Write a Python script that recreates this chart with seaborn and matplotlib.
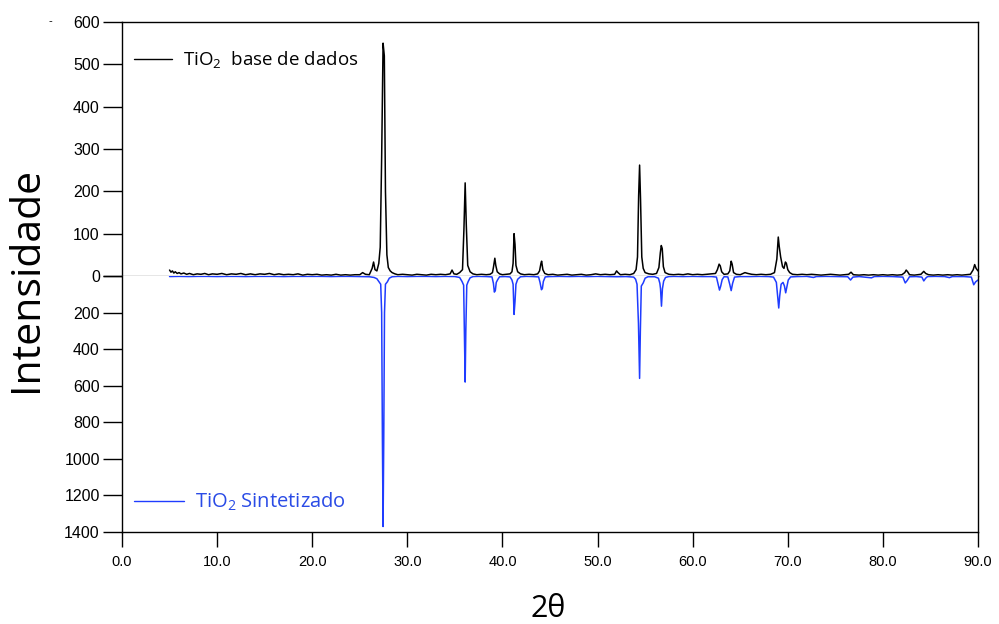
import numpy as np
import pandas as pd
import matplotlib
matplotlib.use("Agg")
import matplotlib.pyplot as plt
import seaborn as sns
from matplotlib.lines import Line2D

# ---------------- data ----------------
db_2theta = [5.0, 5.15, 5.3, 5.45, 5.6, 5.8, 6.0, 6.2, 6.5, 6.8, 7.1, 7.5, 7.9, 8.3, 8.7, 9.1, 9.5,
             10.0, 10.5, 11.0, 11.5, 12.0, 12.5, 13.0, 13.5, 14.0, 14.5, 15.0, 15.5, 16.0, 16.5,
             17.0, 17.5, 18.0, 18.5, 19.0, 19.5, 20.0, 20.5, 21.0, 21.5, 22.0, 22.5, 23.0, 23.5,
             24.0, 24.5, 25.0, 25.3, 25.6, 26.0,
             26.3, 26.45, 26.6, 26.8, 27.0, 27.15, 27.3, 27.45, 27.58, 27.7, 27.85, 28.0, 28.2,
             28.4, 28.7, 29.0, 29.5, 30.0, 30.5, 31.0, 31.5, 32.0, 32.5, 33.0, 33.5, 34.0, 34.5,
             34.7, 34.9, 35.2, 35.5, 35.8, 35.95, 36.08, 36.2, 36.35, 36.6, 36.9, 37.3, 37.8,
             38.3, 38.7, 38.95, 39.05, 39.2, 39.3, 39.45, 39.7, 40.0, 40.4, 40.8, 41.0, 41.12,
             41.22, 41.32, 41.42, 41.6, 41.9, 42.3, 42.8, 43.3, 43.7, 43.9, 44.05, 44.12, 44.25,
             44.45, 44.8, 45.3, 45.8, 46.3, 46.8, 47.3, 47.8, 48.3, 48.8, 49.3, 49.8, 50.3, 50.8,
             51.3, 51.8, 52.0, 52.15, 52.4, 52.9, 53.4, 53.8, 54.05, 54.2, 54.32, 54.42, 54.52,
             54.65, 54.8, 55.0, 55.4, 55.8, 56.2, 56.45, 56.6, 56.7, 56.8, 56.92, 57.1, 57.5,
             58.0, 58.5, 59.0, 59.5, 60.0, 60.5, 61.0, 61.5, 62.0, 62.4, 62.6, 62.78, 62.9,
             63.05, 63.3, 63.7, 63.9, 64.05, 64.15, 64.3, 64.6, 65.0, 65.5, 65.8, 66.2, 66.7,
             67.2, 67.7, 68.2, 68.6, 68.85, 69.0, 69.1, 69.25, 69.45, 69.6, 69.75, 69.85, 70.0,
             70.2, 70.5, 71.0, 71.5, 72.0, 72.5, 73.0, 73.5, 74.0, 74.5, 75.0, 75.5, 76.0, 76.4,
             76.65, 76.9, 77.5, 78.0, 78.5, 79.0, 79.5, 80.0, 80.5, 81.0, 81.5, 82.0, 82.3,
             82.45, 82.6, 82.8, 83.3, 84.0, 84.3, 84.5, 84.8, 85.3, 85.8, 86.3, 86.8, 87.3, 87.8,
             88.3, 88.8, 89.2, 89.5, 89.65, 89.8, 90.0]
db_intensity = [14, 9, 12, 7, 10, 6, 8, 5, 7, 4, 6, 3, 5, 4, 6, 3, 5,
                4, 6, 3, 5, 4, 6, 3, 5, 3, 5, 4, 6, 3, 5,
                3, 4, 3, 5, 2, 4, 3, 4, 2, 3, 2, 4, 2, 3,
                2, 3, 3, 8, 4, 3,
                18, 33, 15, 12, 30, 68, 280, 550, 520, 200, 50, 20, 12,
                8, 5, 3, 4, 3, 2, 4, 3, 2, 4, 3, 4, 3, 5,
                14, 5, 4, 8, 15, 110, 220, 120, 25, 10, 5, 3, 4,
                3, 4, 8, 20, 42, 25, 10, 5, 3, 4, 5, 10, 30,
                100, 75, 25, 10, 5, 3, 4, 3, 5, 12, 30, 35, 15,
                6, 3, 4, 2, 3, 4, 2, 3, 4, 2, 3, 5, 3, 4,
                3, 4, 12, 8, 3, 4, 3, 6, 15, 45, 190, 262, 180,
                45, 18, 8, 5, 4, 6, 20, 55, 72, 65, 22, 8, 4,
                3, 4, 3, 5, 3, 4, 3, 4, 5, 6, 15, 28, 24,
                10, 4, 5, 12, 35, 28, 8, 4, 3, 8, 6, 4, 3,
                4, 3, 4, 8, 40, 92, 70, 45, 22, 18, 33, 30, 15,
                8, 4, 3, 4, 3, 4, 3, 2, 3, 4, 3, 2, 3, 4,
                9, 3, 2, 3, 2, 3, 2, 3, 2, 3, 2, 3, 8,
                14, 10, 3, 2, 4, 11, 6, 3, 2, 3, 2, 3, 2, 3,
                2, 3, 4, 15, 27, 18, 12]

sint_2theta = [5.0, 6.0, 7.0, 8.0, 9.0, 10.0, 11.0, 12.0, 13.0, 14.0, 15.0, 16.0, 17.0, 18.0,
               19.0, 20.0, 21.0, 22.0, 23.0, 24.0, 25.0, 26.0, 26.5, 26.8, 27.0, 27.2, 27.3,
               27.38, 27.45, 27.52, 27.6, 27.7, 27.9, 28.1, 28.4, 29.0, 30.0, 31.0, 32.0, 33.0,
               34.0, 35.0, 35.5, 35.75, 35.92, 36.0, 36.08, 36.15, 36.25, 36.4, 36.6, 36.9, 37.5,
               38.3, 38.9, 39.05, 39.15, 39.25, 39.35, 39.5, 39.7, 40.3, 40.8, 41.0, 41.12, 41.22,
               41.32, 41.42, 41.6, 41.9, 42.5, 43.2, 43.8, 43.95, 44.1, 44.2, 44.3, 44.5, 45.0,
               46.0, 47.0, 48.0, 49.0, 50.0, 51.0, 52.0, 53.0, 53.8, 54.0, 54.15, 54.3, 54.42,
               54.5, 54.6, 54.8, 55.0, 55.3, 56.0, 56.4, 56.55, 56.62, 56.72, 56.82, 56.95, 57.15,
               57.5, 58.0, 59.0, 60.0, 61.0, 62.0, 62.5, 62.68, 62.82, 62.95, 63.1, 63.3, 63.7,
               63.92, 64.05, 64.2, 64.4, 65.0, 66.0, 67.0, 68.0, 68.5, 68.8, 68.95, 69.05, 69.15,
               69.3, 69.5, 69.65, 69.78, 69.9, 70.05, 70.3, 71.0, 72.0, 72.7, 73.0, 74.0, 75.0,
               76.3, 76.6, 76.85, 77.5, 78.8, 79.1, 80.0, 81.0, 82.1, 82.35, 82.55, 82.8, 83.5,
               84.1, 84.3, 84.5, 84.7, 85.5, 86.5, 87.0, 87.3, 88.5, 89.3, 89.55, 89.75, 90.0]
sint_intensity = [3, 2, 3, 2, 2, 3, 2, 2, 3, 2, 2, 2, 3, 2,
                  2, 2, 2, 3, 2, 2, 3, 4, 8, 15, 30, 45, 200,
                  900, 1370, 900, 200, 45, 32, 12, 4, 2, 3, 2, 2, 3,
                  2, 3, 8, 30, 50, 300, 580, 300, 50, 30, 10, 3, 2,
                  3, 5, 40, 88, 80, 35, 20, 4, 3, 5, 22, 45, 210,
                  140, 45, 18, 4, 2, 3, 5, 35, 75, 68, 30, 5, 3,
                  2, 3, 2, 3, 2, 3, 4, 3, 6, 18, 45, 260, 560,
                  300, 55, 38, 12, 4, 4, 12, 40, 70, 165, 70, 28, 8,
                  3, 2, 3, 2, 3, 3, 6, 45, 77, 55, 20, 4, 5,
                  50, 80, 40, 6, 3, 3, 2, 3, 6, 35, 120, 175, 110,
                  45, 35, 55, 92, 60, 22, 5, 3, 2, 8, 3, 2, 3,
                  4, 22, 6, 3, 10, 3, 2, 3, 6, 38, 25, 4, 3,
                  6, 27, 12, 3, 2, 3, 9, 3, 3, 6, 48, 32, 22]

top_yticks = [0, 100, 200, 300, 400, 500, 600]
bottom_yticks = [0, 200, 400, 600, 800, 1000, 1200, 1400]
xticks = [0, 10, 20, 30, 40, 50, 60, 70, 80, 90]

label_db = "TiO$_2$  base de dados"
label_sint = "TiO$_2$ Sintetizado"

# ---------------- style ----------------
sns.set_theme(style="white")
plt.rcParams["font.family"] = ["Liberation Sans", "DejaVu Sans"]
plt.rcParams["text.color"] = "black"
plt.rcParams["axes.labelcolor"] = "black"
plt.rcParams["mathtext.fontset"] = "custom"
plt.rcParams["mathtext.default"] = "regular"
plt.rcParams["mathtext.rm"] = "Open Sans"

BLUE = "#1f3cff"
BLUE_TXT = "#2a4be6"
W, H = 999, 624

fig = plt.figure(figsize=(W / 100, H / 100), dpi=100)
x0, x1 = 122 / W, 978 / W
y_top, y_mid, y_bot = 1 - 22 / H, 1 - 276 / H, 1 - 532 / H
ax_top = fig.add_axes([x0, y_mid, x1 - x0, y_top - y_mid])
ax_bot = fig.add_axes([x0, y_bot, x1 - x0, y_mid - y_bot], sharex=ax_top)

df_db = pd.DataFrame({"2theta": db_2theta, "I": db_intensity})
df_si = pd.DataFrame({"2theta": sint_2theta, "I": sint_intensity})

sns.lineplot(data=df_db, x="2theta", y="I", ax=ax_top, color="black", lw=1.1,
             estimator=None, sort=False)
sns.lineplot(data=df_si, x="2theta", y="I", ax=ax_bot, color=BLUE, lw=1.1,
             estimator=None, sort=False)

ax_top.set_xlim(0, 90)
ax_top.set_ylim(0, 600)
ax_bot.set_ylim(1400, 0)

for ax in (ax_top, ax_bot):
    ax.set_xlabel("")
    ax.set_ylabel("")
    for s in ax.spines.values():
        s.set_color("black")
        s.set_linewidth(1.0)

ax_top.spines["bottom"].set_color("#808080")
ax_bot.spines["top"].set_visible(False)

ax_top.set_yticks(top_yticks)
ax_top.set_yticklabels([str(v) for v in top_yticks])
ax_bot.set_yticks(bottom_yticks)
ax_bot.set_yticklabels([""] + [str(v) for v in bottom_yticks[1:]])

ax_top.tick_params(axis="x", bottom=False, labelbottom=False)
for ax in (ax_top, ax_bot):
    ax.tick_params(axis="y", left=True, direction="out", length=14, width=1.0,
                   pad=2, labelsize=11.5, colors="black")
ax_bot.set_xticks(xticks)
ax_bot.set_xticklabels([f"{v:.1f}" for v in xticks])
ax_bot.tick_params(axis="x", bottom=True, direction="out", length=10.5, width=1.0,
                   pad=6, labelsize=10.5, colors="black")
for lab in ax_bot.get_xticklabels():
    lab.set_family(["Liberation Sans Narrow", "Liberation Sans"])

# legends
h1 = [Line2D([0], [0], color="black", lw=1.0)]
leg1 = ax_top.legend(h1, [label_db], loc="center left",
                     bbox_to_anchor=((134 - 122) / 856, (276 - 60) / 254),
                     frameon=False, borderpad=0, borderaxespad=0, handlelength=2.0,
                     handletextpad=0.6, prop={"family": "Open Sans", "size": 13.5})
for t in leg1.get_texts():
    t.set_color("black")
h2 = [Line2D([0], [0], color=BLUE, lw=1.0)]
leg2 = ax_bot.legend(h2, [label_sint], loc="center left",
                     bbox_to_anchor=((134 - 122) / 856, (532 - 502) / 256),
                     frameon=False, borderpad=0, borderaxespad=0, handlelength=2.5,
                     handletextpad=0.55, prop={"family": "Open Sans", "size": 14.5})
for t in leg2.get_texts():
    t.set_color(BLUE_TXT)

fig.text(27 / W, 1 - 279 / H, "Intensidade", rotation=90, ha="center", va="center",
         family="Open Sans", fontsize=29.5, color="black")
fig.text(548 / W, 1 - 609 / H, "2θ", ha="center", va="center",
         family="Open Sans", fontsize=22, color="black")
fig.text(50 / W, 1 - 21 / H, "-", ha="center", va="center", fontsize=8, color="black")

fig.savefig("out.png", dpi=100)
